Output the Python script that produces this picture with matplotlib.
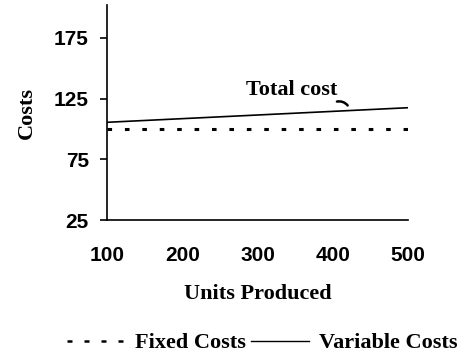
import numpy as np
import matplotlib.pyplot as plt
from matplotlib.lines import Line2D

# data
units = [100, 200, 300, 400, 500]
fixed_costs = [100, 100, 100, 100, 100]
total_costs = [105.5, 108.5, 111.5, 114.5, 117.5]
y_ticks = [25, 75, 125, 175]
x_ticks = [100, 200, 300, 400, 500]

serif = ['Liberation Serif', 'DejaVu Serif']
sans = ['Liberation Sans', 'DejaVu Sans']

fig = plt.figure(figsize=(4.64, 3.62), dpi=100)
ax = fig.add_axes([0.2306, 0.392, 0.8793 - 0.2306, 0.594])

ax.plot(units, fixed_costs, color='black', lw=2.2, linestyle=(0, (1.5, 4.2)),
        solid_capstyle='butt', dash_capstyle='butt')
ax.plot(units, total_costs, color='black', lw=1.2)

ax.set_xlim(100, 500)
ax.set_ylim(25, 202)
ax.set_xticks(x_ticks)
ax.set_yticks(y_ticks)
for s in ['top', 'right']:
    ax.spines[s].set_visible(False)
for s in ['left', 'bottom']:
    ax.spines[s].set_linewidth(1.2)
ax.tick_params(axis='x', length=0, pad=19)
ax.tick_params(axis='y', length=5, width=1.2, direction='out', pad=8)
for lab in ax.get_xticklabels() + ax.get_yticklabels():
    lab.set_family(sans)
    lab.set_fontweight('bold')
    lab.set_fontsize(15)

ax.set_xlabel('Units Produced', family=serif, fontweight='bold', fontsize=16, labelpad=13)
ax.set_ylabel('Costs', family=serif, fontweight='bold', fontsize=16, labelpad=12)

# label for the total cost line
ax.text(345, 132, 'Total cost', family=serif, fontweight='bold', fontsize=16,
        ha='center', va='center')
ax.annotate('', xy=(422, 117.5), xytext=(402, 122),
            arrowprops=dict(arrowstyle='-', lw=1.8, color='black',
                            connectionstyle='arc3,rad=-0.4'))

handles = [Line2D([], [], color='black', lw=1.8, linestyle=(0, (2.0, 4.8))),
           Line2D([], [], color='black', lw=1.0)]
fig.legend(handles, ['Fixed Costs', 'Variable Costs'], loc='center',
           bbox_to_anchor=(0.565, 0.052), ncol=2, frameon=False,
           handlelength=2.6, handletextpad=0.45, columnspacing=0.25,
           borderpad=0.2, prop=dict(family=serif, weight='bold', size=16))

fig.savefig('out.png', dpi=100)
